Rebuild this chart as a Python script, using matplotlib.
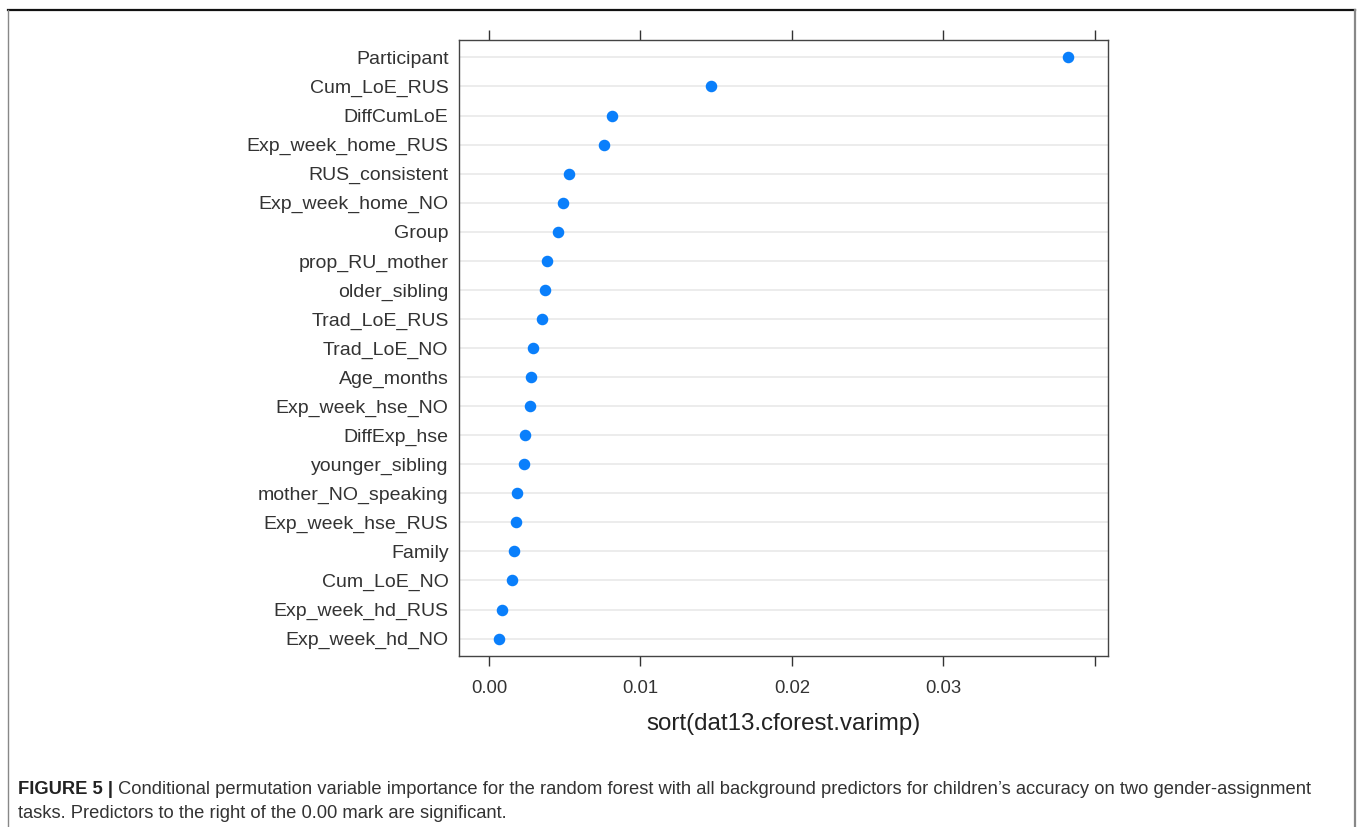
import matplotlib
matplotlib.use("Agg")
import matplotlib.pyplot as plt
from matplotlib.lines import Line2D

plt.rcParams['font.family'] = ['Liberation Sans', 'DejaVu Sans']

predictors = ["Participant", "Cum_LoE_RUS", "DiffCumLoE", "Exp_week_home_RUS",
              "RUS_consistent", "Exp_week_home_NO", "Group", "prop_RU_mother",
              "older_sibling", "Trad_LoE_RUS", "Trad_LoE_NO", "Age_months",
              "Exp_week_hse_NO", "DiffExp_hse", "younger_sibling",
              "mother_NO_speaking", "Exp_week_hse_RUS", "Family", "Cum_LoE_NO",
              "Exp_week_hd_RUS", "Exp_week_hd_NO"]
importance = [0.03822, 0.01465, 0.00812, 0.00759, 0.00528, 0.00488, 0.00455,
              0.00383, 0.00370, 0.00350, 0.00290, 0.00277, 0.00270, 0.00238,
              0.00231, 0.00185, 0.00178, 0.00165, 0.00152, 0.00086, 0.00066]
xticks = [0.00, 0.01, 0.02, 0.03, 0.04]
xticklabels = ["0.00", "0.01", "0.02", "0.03", ""]
xlabel = "sort(dat13.cforest.varimp)"

W, H = 1360, 827
fig = plt.figure(figsize=(W / 100, H / 100), dpi=100)

def fx(px):
    return px / W

def fy(py):
    return 1 - py / H

ax = fig.add_axes([fx(459), fy(656), fx(1108) - fx(459), fy(40) - fy(656)])
n = len(predictors)
ypos = list(range(n))[::-1]
for y in ypos:
    ax.axhline(y, color="#ebebeb", lw=1.3, zorder=1)
ax.plot(importance, ypos, 'o', color="#0a7ffb", ms=7.3, mec="#0a7ffb", zorder=3)

ax.set_ylim(-0.6, n - 1 + 0.6)
ax.set_xlim(-0.00198, 0.04086)
ax.set_yticks(ypos)
ax.set_yticklabels(predictors, fontsize=14, color="#333333")
ax.tick_params(axis='y', length=0, pad=7.5)
ax.set_xticks(xticks)
ax.set_xticklabels(xticklabels, fontsize=13.3, color="#333333")
ax.tick_params(axis='x', direction='out', length=7.5, width=1.0, color="#333333",
               top=True, bottom=True, labeltop=False, pad=10)
ax.set_xlabel(xlabel, fontsize=17.4, color="#222222", labelpad=11)
for s in ax.spines.values():
    s.set_color("#444444")
    s.set_linewidth(1.0)

# outer figure frame
fig.add_artist(Line2D([fx(8), fx(1355)], [fy(10), fy(10)], color="#111111", lw=1.6))
fig.add_artist(Line2D([fx(8), fx(8)], [fy(10), fy(830)], color="#888888", lw=1.0))
fig.add_artist(Line2D([fx(1355), fx(1355)], [fy(10), fy(830)], color="#888888", lw=1.6))

cap_bold = "FIGURE 5 |"
cap1 = (" Conditional permutation variable importance for the random forest with all "
        "background predictors for children\u2019s accuracy on two gender-assignment")
cap2 = "tasks. Predictors to the right of the 0.00 mark are significant."
t = fig.text(fx(18), fy(789), cap_bold, fontsize=13.25, fontweight='bold',
             color="#222222", va='center', ha='left')
fig.canvas.draw()
bb = t.get_window_extent()
fig.text(bb.x1 / W, fy(789), cap1, fontsize=13.25, color="#333333",
         va='center', ha='left')
fig.text(fx(18), fy(813), cap2, fontsize=13.25, color="#333333",
         va='center', ha='left')

fig.savefig("out.png", dpi=100)
